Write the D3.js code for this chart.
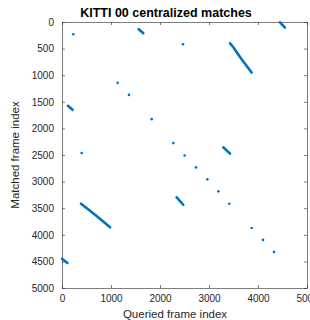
<!DOCTYPE html>
<html>
<head>
<meta charset="utf-8">
<script src="https://cdn.jsdelivr.net/npm/d3@7"></script>
<style>
  body { margin: 0; background: #fff; }
  svg { display: block; font-family: "Liberation Sans", Arial, sans-serif; }
</style>
</head>
<body>
<svg></svg>
<script>
// Single matches [queried, matched]
const dots = [
    [231, 231], [2469, 418], [402, 2463], [1136, 1144], [1367, 1370],
    [1830, 1826], [2272, 2276], [2503, 2508], [2735, 2733], [2966, 2958],
    [3190, 3183], [3415, 3415], [3871, 3871], [4102, 4096], [4327, 4321]
];

// Runs of consecutive matches (loop closures), waypoints [queried, matched]
const runs = [
    [[3430, 400], [3500, 480], [3650, 680], [3870, 950]],
    [[388, 3415], [520, 3510], [700, 3640], [980, 3860]],
    [[4450, 5], [4550, 105]],
    [[0, 4450], [112, 4530]],
    [[1565, 135], [1660, 210]],
    [[120, 1575], [215, 1650]],
    [[3290, 2355], [3430, 2475]],
    [[2340, 3295], [2475, 3435]]
];

const xTicks = [0, 1000, 2000, 3000, 4000, 5000];
const yTicks = [0, 500, 1000, 1500, 2000, 2500, 3000, 3500, 4000, 4500, 5000];

const width = 310, height = 320;
const margin = {top: 22, right: 3, bottom: 32, left: 62};

const svg = d3.select("svg")
    .attr("width", width)
    .attr("height", height);

const x = d3.scaleLinear().domain([0, 5000]).range([margin.left, width - margin.right]);
const y = d3.scaleLinear().domain([0, 5000]).range([margin.top, height - margin.bottom]);

const axisColor = "#262626";

// Axes with inward ticks, box style
const gx = svg.append("g")
    .attr("transform", `translate(0,${height - margin.bottom})`)
    .call(d3.axisBottom(x).tickValues(xTicks).tickFormat(d3.format("d"))
        .tickSize(-3).tickPadding(7).tickSizeOuter(0));
const gxTop = svg.append("g")
    .attr("transform", `translate(0,${margin.top})`)
    .call(d3.axisTop(x).tickValues(xTicks).tickSize(-3).tickFormat("").tickSizeOuter(0));
const gy = svg.append("g")
    .attr("transform", `translate(${margin.left},0)`)
    .call(d3.axisLeft(y).tickValues(yTicks).tickFormat(d3.format("d"))
        .tickSize(-3).tickPadding(8).tickSizeOuter(0));
const gyRight = svg.append("g")
    .attr("transform", `translate(${width - margin.right},0)`)
    .call(d3.axisRight(y).tickValues(yTicks).tickSize(-3).tickFormat("").tickSizeOuter(0));

[gx, gxTop, gy, gyRight].forEach(g => {
    g.selectAll("path, line").attr("stroke", axisColor).attr("stroke-width", 0.6);
    g.selectAll("text").attr("fill", axisColor).style("font-size", "10px");
});

// Matches
const line = d3.line().x(d => x(d[0])).y(d => y(d[1]));
svg.append("g").selectAll("path")
    .data(runs)
    .join("path")
    .attr("d", line)
    .attr("fill", "none")
    .attr("stroke", "#0072BD")
    .attr("stroke-width", 2.6)
    .attr("stroke-linecap", "round")
    .attr("stroke-linejoin", "round");

svg.append("g").selectAll("circle")
    .data(dots)
    .join("circle")
    .attr("cx", d => x(d[0]))
    .attr("cy", d => y(d[1]))
    .attr("r", 1.3)
    .attr("fill", "#0072BD");

// Title and labels
svg.append("text")
    .attr("x", 166).attr("y", 17)
    .attr("text-anchor", "middle")
    .style("font-size", "12.5px").style("font-weight", "bold")
    .attr("fill", "#000")
    .text("KITTI 00 centralized matches");

svg.append("text")
    .attr("x", 175).attr("y", 318)
    .attr("text-anchor", "middle")
    .style("font-size", "11.5px")
    .attr("fill", axisColor)
    .text("Queried frame index");

svg.append("text")
    .attr("transform", `translate(19,${(margin.top + height - margin.bottom) / 2}) rotate(-90)`)
    .attr("text-anchor", "middle")
    .style("font-size", "11.5px")
    .attr("fill", axisColor)
    .text("Matched frame index");
</script>
</body>
</html>
